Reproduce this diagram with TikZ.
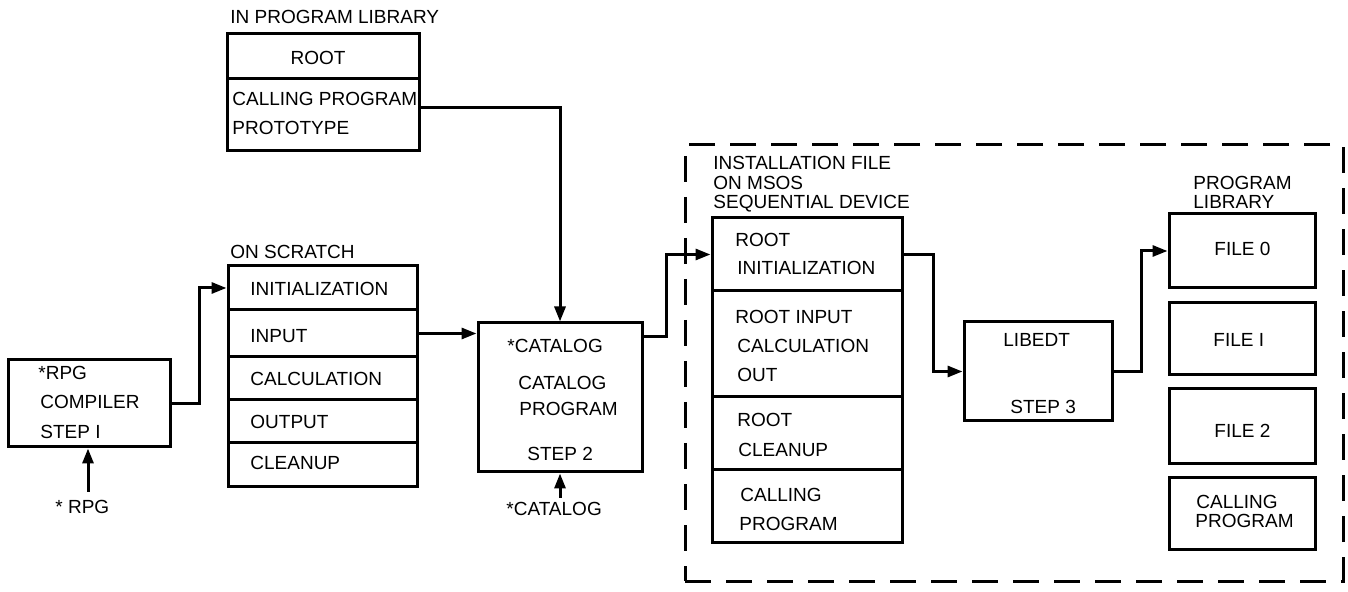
\documentclass[tikz,border=0pt]{standalone}
\usepackage{fontspec}
\setmainfont{Liberation Sans}
\usetikzlibrary{fit,arrows.meta}
\newcommand\dfont{\fontsize{9.5pt}{11pt}\selectfont}
\tikzset{
  box/.style={draw, line width=1.5pt, inner sep=0pt},
  zone/.style={draw, line width=1.5pt, inner sep=0pt, dash pattern=on 13pt off 7.5pt},
  txt/.style={font=\dfont, inner sep=0pt, text height=6.8pt, text depth=0pt, anchor=west},
  arr/.style={line width=1.5pt, -{Triangle[length=7.5pt,width=5.5pt]}},
}
\begin{document}
\begin{tikzpicture}[x=0.5pt,y=-0.5pt]
\useasboundingbox (0,0) rectangle (1348,592);

% dashed installation zone
\node[zone, fit={(685,145) (1343,581)}] (zonebox) {};

% RPG compiler
\node[box, fit={(8,360) (170,447)}] (rpg) {};
\node[txt] (rpgt1) at (38,373) {*RPG};
\node[txt] (rpgt2) at (40,402) {COMPILER};
\node[txt] (rpgt3) at (40,432) {STEP I};
\node[txt] (rpglbl) at (55,507) {* RPG};

% On scratch
\node[txt] (scrlbl) at (230,252) {ON SCRATCH};
\node[box, fit={(228,266) (417,310)}] (s1) {};
\node[box, fit={(228,310) (417,357)}] (s2) {};
\node[box, fit={(228,357) (417,400)}] (s3) {};
\node[box, fit={(228,400) (417,443)}] (s4) {};
\node[box, fit={(228,443) (417,487)}] (s5) {};
\node[txt] (s1t) at (250,289) {INITIALIZATION};
\node[txt] (s2t) at (250,336) {INPUT};
\node[txt] (s3t) at (250,379) {CALCULATION};
\node[txt] (s4t) at (250,422) {OUTPUT};
\node[txt] (s5t) at (250,463) {CLEANUP};

% In program library
\node[txt] (pliblbl) at (230,17) {IN PROGRAM LIBRARY};
\node[box, fit={(227,34) (419,79)}] (p1) {};
\node[box, fit={(227,79) (419,151)}] (p2) {};
\node[txt, anchor=center] (p1t) at (318,58) {ROOT};
\node[txt] (p2t1) at (232,99) {CALLING PROGRAM};
\node[txt] (p2t2) at (232,128) {PROTOTYPE};

% Catalog
\node[box, fit={(478,323) (642,472)}] (cat) {};
\node[txt] (catt1) at (507,346) {*CATALOG};
\node[txt] (catt2) at (518,383) {CATALOG};
\node[txt] (catt3) at (519,409) {PROGRAM};
\node[txt] (catt4) at (527,454) {STEP 2};
\node[txt] (catlbl) at (506,509) {*CATALOG};

% Installation file
\node[txt] (inlbl1) at (713,163) {INSTALLATION FILE};
\node[txt] (inlbl2) at (713,183) {ON MSOS};
\node[txt] (inlbl3) at (713,202) {SEQUENTIAL DEVICE};
\node[box, fit={(712,218) (902,291)}] (i1) {};
\node[box, fit={(712,291) (902,397)}] (i2) {};
\node[box, fit={(712,397) (902,470)}] (i3) {};
\node[box, fit={(712,470) (902,542)}] (i4) {};
\node[txt] (i1t1) at (735,240) {ROOT};
\node[txt] (i1t2) at (737,268) {INITIALIZATION};
\node[txt] (i2t1) at (735,317) {ROOT INPUT};
\node[txt] (i2t2) at (737,346) {CALCULATION};
\node[txt] (i2t3) at (737,375) {OUT};
\node[txt] (i3t1) at (737,420) {ROOT};
\node[txt] (i3t2) at (738,450) {CLEANUP};
\node[txt] (i4t1) at (740,495) {CALLING};
\node[txt] (i4t2) at (739,524) {PROGRAM};

% LIBEDT
\node[box, fit={(964,322) (1112,421)}] (lib) {};
\node[txt] (libt1) at (1003,340) {LIBEDT};
\node[txt] (libt2) at (1010,407) {STEP 3};

% Program library
\node[txt] (proglbl1) at (1193,183) {PROGRAM};
\node[txt] (proglbl2) at (1193,202) {LIBRARY};
\node[box, fit={(1169,214) (1315,288)}] (f0) {};
\node[box, fit={(1169,303) (1315,375)}] (f1) {};
\node[box, fit={(1169,389) (1315,464)}] (f2) {};
\node[box, fit={(1169,478) (1315,549)}] (f3) {};
\node[txt] (f0t) at (1214,249) {FILE 0};
\node[txt] (f1t) at (1213,340) {FILE I};
\node[txt] (f2t) at (1214,431) {FILE 2};
\node[txt] (f3t1) at (1196,502) {CALLING};
\node[txt] (f3t2) at (1195,521) {PROGRAM};

% connectors
\coordinate (rpgsrc) at (88,492);
\coordinate (catsrc) at (560,498);
\draw[arr] (rpgsrc) -- (rpgsrc |- rpg.south);
\draw[arr] (catsrc) -- (catsrc |- cat.south);
\draw[arr] (rpg.east) -- ++(28,0) |- (s1.west);
\draw[arr] (s2.east) -- (s2.east -| cat.west);
\draw[arr] ([yshift=3.5pt]p2.east) -| (cat.north);
\draw[arr] ([yshift=-7.5pt]cat.north east) -- ++(23,0) |- (i1.west);
\draw[arr] (i1.east) -- ++(30,0) |- (lib.west);
\draw[arr] (lib.east) -- ++(28,0) |- (f0.west);
\end{tikzpicture}
\end{document}
